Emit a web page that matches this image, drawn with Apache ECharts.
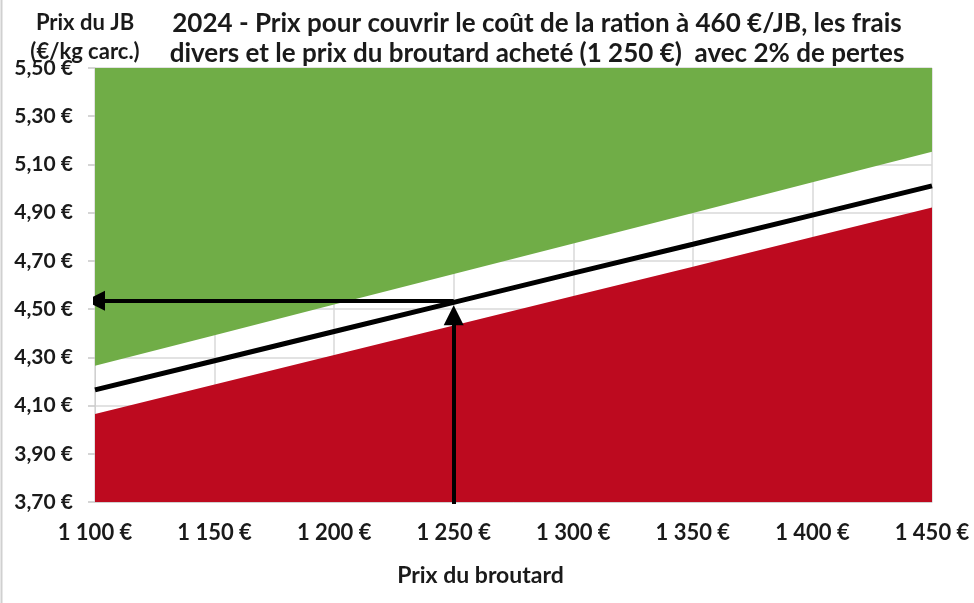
<!DOCTYPE html>
<html>
<head>
<meta charset="utf-8">
<script src="https://cdn.jsdelivr.net/npm/echarts@6/dist/echarts.min.js"></script>
<style>
html,body{margin:0;padding:0;background:#fff;}
#chart{width:974px;height:603px;}
</style>
</head>
<body>
<div id="chart"></div>
<script>
// Prix du broutard (€)
var broutard = [1100, 1150, 1200, 1250, 1300, 1350, 1400, 1450];
// Prix du JB pour couvrir les coûts (€/kg carc.)
var prixEquilibre = [4.165, 4.286, 4.407, 4.528, 4.649, 4.769, 4.890, 5.011];
// Limite basse de la zone verte
var limiteVerte = [4.265, 4.392, 4.519, 4.646, 4.772, 4.899, 5.026, 5.153];
// Limite haute de la zone rouge
var limiteRouge = [4.065, 4.187, 4.310, 4.432, 4.554, 4.676, 4.799, 4.921];
// Lecture : broutard à 1 250 € -> prix du JB
var lectureX = 1250;
var lectureY = 4.535;
// Tick labels
var xTickLabels = ['1 100 €', '1 150 €', '1 200 €', '1 250 €', '1 300 €', '1 350 €', '1 400 €', '1 450 €'];
var yTickLabels = ['3,70 €', '3,90 €', '4,10 €', '4,30 €', '4,50 €', '4,70 €', '4,90 €', '5,10 €', '5,30 €', '5,50 €'];

function pairs(xs, ys) { return xs.map(function (x, i) { return [x, ys[i]]; }); }

var FONT = 'Lato';
var chart = echarts.init(document.getElementById('chart'), null, {renderer: 'canvas'});
chart.setOption({
  animation: false,
  backgroundColor: '#ffffff',
  title: [{
    text: '2024 - Prix pour couvrir le coût de la ration à 460 €/JB, les frais\ndivers et le prix du broutard acheté (1 250 €)  avec 2% de pertes',
    left: 532, top: 4, textAlign: 'center',
    textStyle: {fontFamily: FONT, fontWeight: 'bold', fontSize: 26, lineHeight: 30, color: '#1a1a1a'}
  }, {
    text: 'Prix du JB\n(€/kg carc.)',
    left: 80, top: 3, textAlign: 'center',
    textStyle: {fontFamily: FONT, fontWeight: 'bold', fontSize: 22, lineHeight: 29, color: '#1a1a1a'}
  }],
  graphic: [{
    type: 'line', shape: {x1: 1.5, y1: 0, x2: 1.5, y2: 603},
    style: {stroke: '#d0d0d0', lineWidth: 2}
  }],
  grid: {left: 95, right: 42, top: 68, bottom: 101, containLabel: false},
  xAxis: {
    type: 'value', min: 1100, max: 1450, interval: 50,
    name: 'Prix du broutard', nameLocation: 'middle', nameGap: 62,
    nameTextStyle: {fontFamily: FONT, fontWeight: 'bold', fontSize: 23, color: '#1a1a1a', padding: [0, 66, 0, 0]},
    axisLine: {show: true, lineStyle: {color: '#d0d0d0', width: 1}},
    axisTick: {show: false},
    axisLabel: {
      margin: 20, fontFamily: FONT, fontWeight: 'bold', fontSize: 22, color: '#1a1a1a',
      formatter: function (v) { return xTickLabels[broutard.indexOf(v)] || ''; }
    },
    splitLine: {show: true, lineStyle: {color: '#d9d9d9', width: 1.5}}
  },
  yAxis: {
    type: 'value', min: 3.7, max: 5.5, interval: 0.2,
    axisLine: {show: true, lineStyle: {color: '#d0d0d0', width: 1}},
    axisTick: {show: true, length: 7, lineStyle: {color: '#c8c8c8', width: 1.5}},
    axisLabel: {
      margin: 22, fontFamily: FONT, fontWeight: 'bold', fontSize: 21, color: '#1a1a1a',
      formatter: function (v) { return yTickLabels[Math.round((v - 3.7) / 0.2)] || ''; }
    },
    splitLine: {show: true, lineStyle: {color: '#d9d9d9', width: 1.5}}
  },
  series: [{
    name: 'Zone verte', type: 'line', data: pairs(broutard, limiteVerte),
    symbol: 'none', lineStyle: {width: 0}, z: 2,
    areaStyle: {origin: 'end', color: '#70ad47', opacity: 1}
  }, {
    name: 'Zone rouge', type: 'line', data: pairs(broutard, limiteRouge),
    symbol: 'none', lineStyle: {width: 0}, z: 2,
    areaStyle: {origin: 'start', color: '#bd0a1f', opacity: 1}
  }, {
    name: 'Prix d\'équilibre', type: 'line', data: pairs(broutard, prixEquilibre),
    symbol: 'none', lineStyle: {width: 5, color: '#000000'}, z: 3
  }, {
    name: 'Lecture', type: 'lines', coordinateSystem: 'cartesian2d', z: 6,
    symbol: ['none', 'triangle'], symbolSize: [22, 20],
    lineStyle: {color: '#000000', width: 4, opacity: 1, curveness: 0},
    data: [
      {coords: [[lectureX, lectureY], [1100, lectureY]]},
      {coords: [[lectureX, 3.668], [lectureX, 4.475]]}
    ]
  }]
});
</script>
</body>
</html>
